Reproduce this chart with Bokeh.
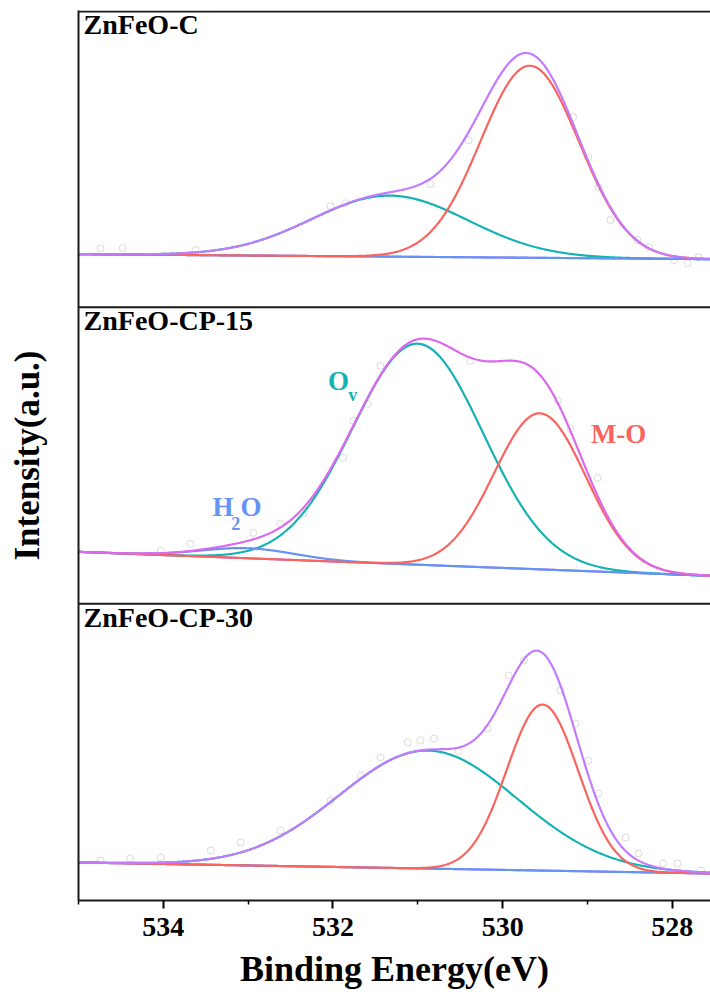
import numpy as np
from bokeh.plotting import figure
from bokeh.models import Range1d, FixedTicker, Span, Label, ColumnDataSource
from bokeh.embed import file_html
from bokeh.resources import INLINE

# ---------------- data ----------------
energy_range = [535.0, 527.55]
panel_names = ["ZnFeO-C", "ZnFeO-CP-15", "ZnFeO-CP-30"]
# fitted components per panel (centre eV, sigma eV, height a.u.)
mo_center = [529.68, 529.56, 529.53]
mo_sigma = [0.58, 0.54, 0.42]
mo_height = [192, 156, 166]
ov_center = [531.33, 531.00, 530.88]
ov_sigma = [0.92, 0.77, 1.05]
ov_height = [61, 221, 118]
h2o_center = [533.0, 533.0, 533.0]
h2o_sigma = [0.55, 0.55, 0.55]
h2o_height = [0, 10, 0]
baseline_left = [53, 52, 38]
baseline_right = [48, 28, 27]
tick_major = [534, 532, 530, 528]
tick_minor = [535, 533, 531, 529]

# raw data points (faint circles), energy and intensity per panel
raw_e_c = [534.74, 534.48, 533.62, 532.03, 531.85, 530.85, 530.40, 529.17,
           528.99, 528.87, 528.73, 528.41, 528.28, 527.98, 527.82, 527.69]
raw_i_c = [59, 59, 57, 101, 104, 123, 167, 190, 150, 120, 87, 67, 60, 47, 44, 50]
raw_e_15 = [534.03, 533.68, 532.94, 532.62, 532.35, 531.88, 531.76, 531.59,
            531.44, 530.38, 529.35, 529.20, 528.88]
raw_i_15 = [53, 60, 71, 80, 90, 146, 183, 200, 238, 243, 203, 175, 126]
raw_e_30 = [534.74, 534.39, 534.03, 533.44, 533.09, 532.62, 532.03, 531.67,
            531.44, 531.12, 530.97, 530.81, 530.52, 530.18, 529.93, 529.75,
            529.32, 529.14, 528.99, 528.87, 528.55, 528.40, 528.11, 527.94,
            527.66]
raw_i_30 = [40, 42, 43, 50, 58, 70, 100, 125, 143, 158, 160, 162, 149, 172,
            225, 240, 210, 177, 140, 107, 63, 47, 37, 37, 30]
raw_e = [raw_e_c, raw_e_15, raw_e_30]
raw_i = [raw_i_c, raw_i_15, raw_i_30]

# ---------------- styling ----------------
FONT = "Liberation Serif"
C_RED = "#F9645E"
C_CYAN = "#14B2B2"
C_BLUE = "#6492F5"
C_ENV = ["#C27AFF", "#DB68EE", "#C27AFF"]
C_BASE = "#B06CFF"
PANEL_H = 890 / 3.0

p = figure(width=710, height=1001, output_backend="svg", toolbar_location=None,
           x_range=Range1d(energy_range[0], energy_range[1]),
           y_range=Range1d(0, 890),
           min_border_left=78, min_border_right=0, min_border_top=10,
           min_border_bottom=101)
p.outline_line_color = None
p.grid.visible = False
p.background_fill_color = "white"
p.border_fill_color = "white"

E = np.linspace(energy_range[0], energy_range[1], 700)


def gauss(c, s, h):
    return h * np.exp(-0.5 * ((E - c) / s) ** 2)


for i in range(3):
    off = (2 - i) * PANEL_H
    p.scatter(raw_e[i], [v + off for v in raw_i[i]], marker="circle", size=7,
              fill_color=None, line_color="#dadada", line_width=1)
    base = baseline_left[i] + (baseline_right[i] - baseline_left[i]) * \
        (E - energy_range[0]) / (energy_range[1] - energy_range[0])
    mo = gauss(mo_center[i], mo_sigma[i], mo_height[i])
    ov = gauss(ov_center[i], ov_sigma[i], ov_height[i])
    h2o = gauss(h2o_center[i], h2o_sigma[i], h2o_height[i])
    env = mo + ov + h2o
    src = ColumnDataSource(dict(x=E, base=base + off, mo=mo + base + off,
                                ov=ov + base + off, h2o=h2o + base + off,
                                env=env + base + off))
    p.line("x", "base", source=src, line_color=C_BASE, line_width=2)
    p.line("x", "ov", source=src, line_color=C_CYAN, line_width=2.2)
    p.line("x", "h2o", source=src, line_color=C_BLUE, line_width=2.2)
    p.line("x", "mo", source=src, line_color=C_RED, line_width=2.2)
    p.line("x", "env", source=src, line_color=C_ENV[i], line_width=2.2)
    p.add_layout(Label(x=534.94, y=off + PANEL_H - 29, text=panel_names[i],
                       text_font=FONT, text_font_style="bold",
                       text_font_size="28px", text_color="black"))

# panel borders
for k in range(1, 3):
    p.add_layout(Span(location=k * PANEL_H, dimension="width",
                      line_color="#1a1a1a", line_width=2))
p.add_layout(Span(location=889, dimension="width", line_color="#1a1a1a",
                  line_width=2))

# component labels (middle panel)
def lab(x, y, t, c, size):
    p.add_layout(Label(x=x, y=y, text=t, text_font=FONT, text_font_style="bold",
                       text_font_size=size, text_color=c))

lab(532.06, 505, "O", C_CYAN, "27px")
lab(531.82, 496, "v", C_CYAN, "18px")
lab(533.42, 379, "H", C_BLUE, "27px")
lab(533.20, 371, "2", C_BLUE, "18px")
lab(533.09, 379, "O", C_BLUE, "27px")
lab(528.96, 452, "M-O", C_RED, "27px")

# axes
xa = p.xaxis[0]
xa.ticker = FixedTicker(ticks=tick_major, minor_ticks=tick_minor)
xa.axis_line_width = 2
xa.axis_line_color = "#1a1a1a"
xa.major_tick_line_width = 2
xa.minor_tick_line_width = 1.5
xa.major_tick_out = 8
xa.major_tick_in = 0
xa.minor_tick_out = 4
xa.minor_tick_in = 0
xa.major_label_text_font = FONT
xa.major_label_text_font_style = "bold"
xa.major_label_text_font_size = "28px"
xa.major_label_text_color = "black"
xa.major_label_standoff = 9
xa.axis_label = "Binding Energy(eV)"
xa.axis_label_text_font = FONT
xa.axis_label_text_font_style = "bold"
xa.axis_label_text_font_size = "36px"
xa.axis_label_text_color = "black"
xa.axis_label_standoff = 10

ya = p.yaxis[0]
ya.ticker = FixedTicker(ticks=[])
ya.axis_line_width = 2
ya.axis_line_color = "#1a1a1a"
ya.major_tick_line_color = None
ya.minor_tick_line_color = None
ya.axis_label = "Intensity(a.u.)"
ya.axis_label_text_font = FONT
ya.axis_label_text_font_style = "bold"
ya.axis_label_text_font_size = "35px"
ya.axis_label_text_color = "black"
ya.axis_label_standoff = 32

open("out.html", "w").write(file_html(p, INLINE))
